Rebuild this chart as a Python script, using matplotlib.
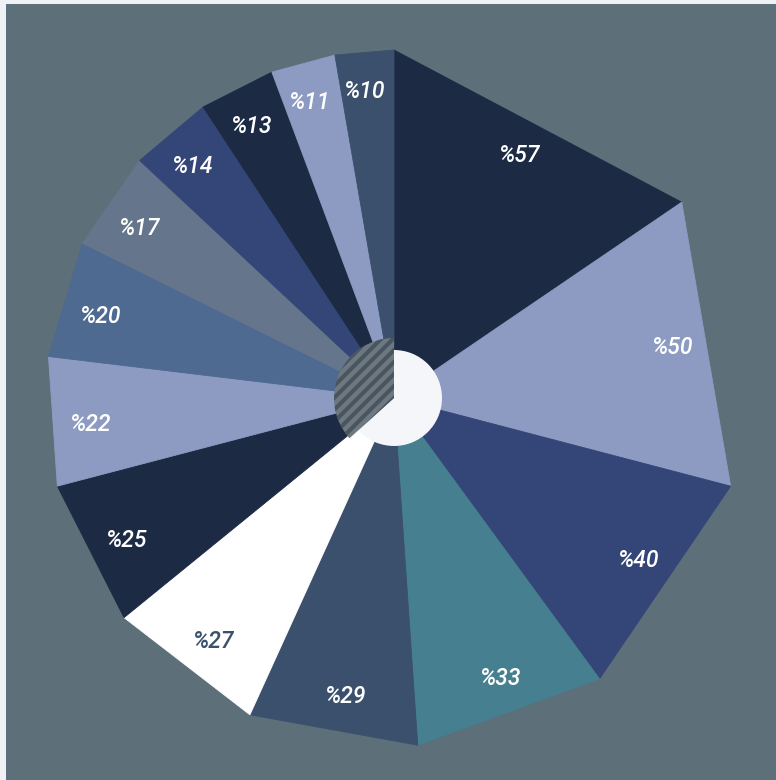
import numpy as np
import matplotlib
matplotlib.use("Agg")
import matplotlib.pyplot as plt
from matplotlib.lines import Line2D
from matplotlib.patches import Wedge
from matplotlib.transforms import IdentityTransform

# ---- data ----
values = [57, 50, 40, 33, 29, 27, 25, 22, 20, 17, 14, 13, 11, 10]
labels = ["%57", "%50", "%40", "%33", "%29", "%27", "%25", "%22", "%20",
          "%17", "%14", "%13", "%11", "%10"]
colors = ["#1c2a44", "#8d9bc3", "#344677", "#467f8f", "#3a506d", "#ffffff",
          "#1c2a44", "#8d9bc3", "#4e6a90", "#65758b", "#344677", "#1c2a44",
          "#8d9bc3", "#3a506d"]
label_colors = ["#ffffff"] * 5 + ["#3a506d"] + ["#ffffff"] * 8

hatch_fraction = 0.367  # share of the centre disc covered by the striped wedge

W, H = 776, 780
fig = plt.figure(figsize=(W / 100, H / 100), dpi=100, facecolor="#eef2f5")
bg = fig.add_axes([6 / W, 0, 1 - 6 / W, 1 - 4 / H], zorder=-5)
bg.set_facecolor("#5d6f79")
bg.set_xticks([])
bg.set_yticks([])
for s in bg.spines.values():
    s.set_visible(False)

cx, cy, S, R = 394, 398, 360, 348
ax = fig.add_axes([(cx - S) / W, (H - cy - S) / H, 2 * S / W, 2 * S / H],
                  projection="polar", zorder=1)
ax.set_theta_zero_location("N")
ax.set_theta_direction(-1)
ax.set_ylim(0, S / R)
ax.set_axis_off()
ax.patch.set_alpha(0)

total = sum(values)
bounds = np.concatenate([[0], np.cumsum(values)]) / total * 2 * np.pi

fs = 16.5
for i, v in enumerate(values):
    t1, t2 = bounds[i], bounds[i + 1]
    ax.fill([0, t1, t2], [0, 1, 1], facecolor=colors[i], edgecolor=colors[i],
            linewidth=0.6, zorder=2)
    half = (t2 - t1) / 2
    rl = 0.892 * np.cos(half)
    ax.annotate(labels[i], xy=((t1 + t2) / 2 - np.radians(0.8), rl),
                xytext=(0, -0.711 * fs / 2),
                textcoords="offset points", color=label_colors[i],
                fontsize=fs, fontstyle="italic", fontweight="medium",
                family=["Roboto", "DejaVu Sans"], ha="center", va="baseline",
                zorder=5)

# centre disc
ax.bar(0, 48 / R, width=2 * np.pi, bottom=0, color="#f4f6fa",
       edgecolor="none", zorder=3)

# striped wedge over the left part of the disc (pixel space)
px, py = cx, H - cy
wedge = Wedge((px, py), 60, 90, 90 + 360 * hatch_fraction,
              transform=IdentityTransform(), facecolor="#6c7882",
              edgecolor="none", zorder=4)
ax.add_artist(wedge)
period = 12.0
for k in range(-12, 13):
    c = k * period
    ln = Line2D([px + c - 90, px + c + 90], [py - 90, py + 90],
                transform=IdentityTransform(), color="#4b555e",
                linewidth=3.0, solid_capstyle="butt", zorder=4.5)
    ln.set_clip_path(wedge)
    ax.add_line(ln)

ax.set_ylim(0, S / R)
fig.savefig("out.png", dpi=100, facecolor=fig.get_facecolor())
